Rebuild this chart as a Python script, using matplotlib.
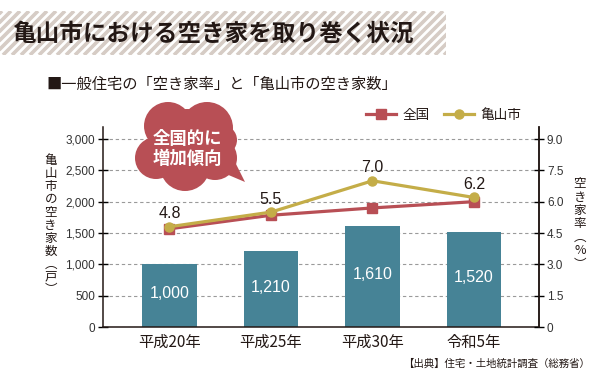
import matplotlib
matplotlib.use("Agg")
import matplotlib.pyplot as plt
from matplotlib.patches import Rectangle, Circle, Polygon
from matplotlib.ticker import FuncFormatter, FixedLocator
from matplotlib import font_manager

plt.rcParams['font.family'] = ['Noto Sans CJK JP', 'DejaVu Sans']

# ---- data ----
categories = ["平成20年", "平成25年", "平成30年", "令和5年"]
vacant_houses = [1000, 1210, 1610, 1520]          # 亀山市の空き家数（戸）
rate_kameyama = [4.8, 5.5, 7.0, 6.2]              # 亀山市 空き家率（%）
rate_national = [4.7, 5.35, 5.7, 6.0]             # 全国（chart position）
left_ticks = [0, 500, 1000, 1500, 2000, 2500, 3000]
right_ticks = [0, 1.5, 3.0, 4.5, 6.0, 7.5, 9.0]

title = "亀山市における空き家を取り巻く状況"
subtitle = "■一般住宅の「空き家率」と「亀山市の空き家数」"
source = "【出典】住宅・土地統計調査（総務省）"
bubble_text = "全国的に\n増加傾向"

# fonts
names = {f.name for f in font_manager.fontManager.ttflist}
num_font = ['Liberation Sans', 'DejaVu Sans'] if 'Liberation Sans' in names else ['DejaVu Sans']
cjk = ['Noto Sans CJK JP', 'DejaVu Sans']

BAR = '#468396'
RED = '#b84f55'
YEL = '#c4ad48'
TXT = '#231815'

fig = plt.figure(figsize=(6.01, 3.76), dpi=100)
ax = fig.add_axes([102.7 / 601, 1 - 327 / 376, (539.3 - 102.7) / 601, 200 / 376])
ymax = 3000 * 200 / 188
x = list(range(len(categories)))

ax.bar(x, vacant_houses, width=0.54, color=BAR, zorder=2)
for xi, v in zip(x, vacant_houses):
    ax.text(xi, v / 2 + 30, f"{v:,}", ha='center', va='center', color='white',
            fontsize=11.5, family=num_font, zorder=3)

ax.set_xlim(-0.657, 3.643)
ax.set_ylim(0, ymax)
ax.yaxis.set_major_locator(FixedLocator(left_ticks))
ax.yaxis.set_major_formatter(FuncFormatter(lambda v, p: f"{int(v):,}"))
ax.set_xticks(x)
ax.set_xticklabels(categories, fontsize=11, color=TXT, family=cjk)
ax.tick_params(axis='x', length=0, pad=5)
ax.tick_params(axis='y', direction='inout', length=7, width=1, labelsize=8.5,
               labelcolor='#333333', pad=2)
for lab in ax.get_yticklabels():
    lab.set_family(num_font)
ax.grid(axis='y', linestyle=(0, (3, 2.5)), color='#9a9a9a', linewidth=0.8, zorder=0)
ax.set_axisbelow(True)
ax.spines['top'].set_visible(False)
for s in ['left', 'right', 'bottom']:
    ax.spines[s].set_linewidth(1.1)
    ax.spines[s].set_color('#231815')

ax2 = ax.twinx()
ax2.set_ylim(0, ymax * 0.003)
ax2.yaxis.set_major_locator(FixedLocator(right_ticks))
ax2.yaxis.set_major_formatter(FuncFormatter(lambda v, p: "0" if v == 0 else f"{v:.1f}"))
ax2.tick_params(axis='y', direction='inout', length=7, width=1, labelsize=8.5,
                labelcolor='#333333', pad=2)
for lab in ax2.get_yticklabels():
    lab.set_family(num_font)
for s in ['top', 'left', 'bottom']:
    ax2.spines[s].set_visible(False)
ax2.spines['right'].set_linewidth(1.1)
ax2.spines['right'].set_color('#231815')

l1, = ax2.plot(x, rate_national, color=RED, lw=2.3, marker='s', markersize=7,
               label='全国', zorder=4)
l2, = ax2.plot(x, rate_kameyama, color=YEL, lw=2.3, marker='o', markersize=6.5,
               label='亀山市', zorder=5)
for xi, v in zip(x, rate_kameyama):
    ax2.annotate(f"{v:.1f}", (xi, v), xytext=(0, 4), textcoords='offset points',
                 ha='center', va='bottom', fontsize=11.5, color=TXT, family=num_font)

leg = ax2.legend(handles=[l1, l2], ncol=2, frameon=False, loc='center left',
                 bbox_to_anchor=(366 / 601, 1 - 115 / 376), bbox_transform=fig.transFigure,
                 borderpad=0, borderaxespad=0, handlelength=2.2, handletextpad=0.45,
                 columnspacing=1.1, prop={'family': cjk, 'size': 9.8})
for t in leg.get_texts():
    t.set_color(TXT)

# axis titles (vertical, stacked)
fig.text(50.7 / 601, 1 - 225 / 376, "\n".join("亀山市の空き家数︵戸︶"), ha='center', va='center',
         fontsize=9, color=TXT, family=cjk, linespacing=1.0)
fig.text(580 / 601, 1 - 224 / 376, "\n".join("空き家率︵%︶"), ha='center', va='center',
         fontsize=9, color=TXT, family=cjk, linespacing=1.05)

# overlay for decorations
ov = fig.add_axes([0, 0, 1, 1], zorder=10)
ov.set_xlim(0, 601)
ov.set_ylim(376, 0)
ov.axis('off')
ov.patch.set_visible(False)

# striped title banner
clip = Rectangle((0, 11), 446, 44, transform=ov.transData, facecolor='none', edgecolor='none')
ov.add_patch(clip)
k = -60
while k < 460:
    ln, = ov.plot([k, k + 44], [55, 11], color='#d6ccc5', lw=2.6, solid_capstyle='butt')
    ln.set_clip_path(clip)
    k += 9
ov.text(12, 34, title, ha='left', va='center', fontsize=17, fontweight='bold',
        color=TXT, family=cjk)

ov.text(46, 84, subtitle, ha='left', va='center', fontsize=11, color=TXT, family=cjk)
ov.text(590, 364, source, ha='right', va='center', fontsize=7.5, color=TXT, family=cjk)

# speech bubble
for cx, cy, r in [(168, 126, 24), (207, 128, 26), (156, 158, 21), (185, 166, 25),
                  (215, 158, 22), (187, 145, 36), (222, 140, 15)]:
    ov.add_patch(Circle((cx, cy), r, facecolor=RED, edgecolor='none'))
ov.add_patch(Polygon([(212, 168), (245, 182), (230, 152)], closed=True,
                     facecolor=RED, edgecolor='none'))
ov.text(187, 149, bubble_text, ha='center', va='center', fontsize=12.5, fontweight='bold',
        color='white', family=cjk, linespacing=1.1)

fig.savefig("out.png", dpi=100)
